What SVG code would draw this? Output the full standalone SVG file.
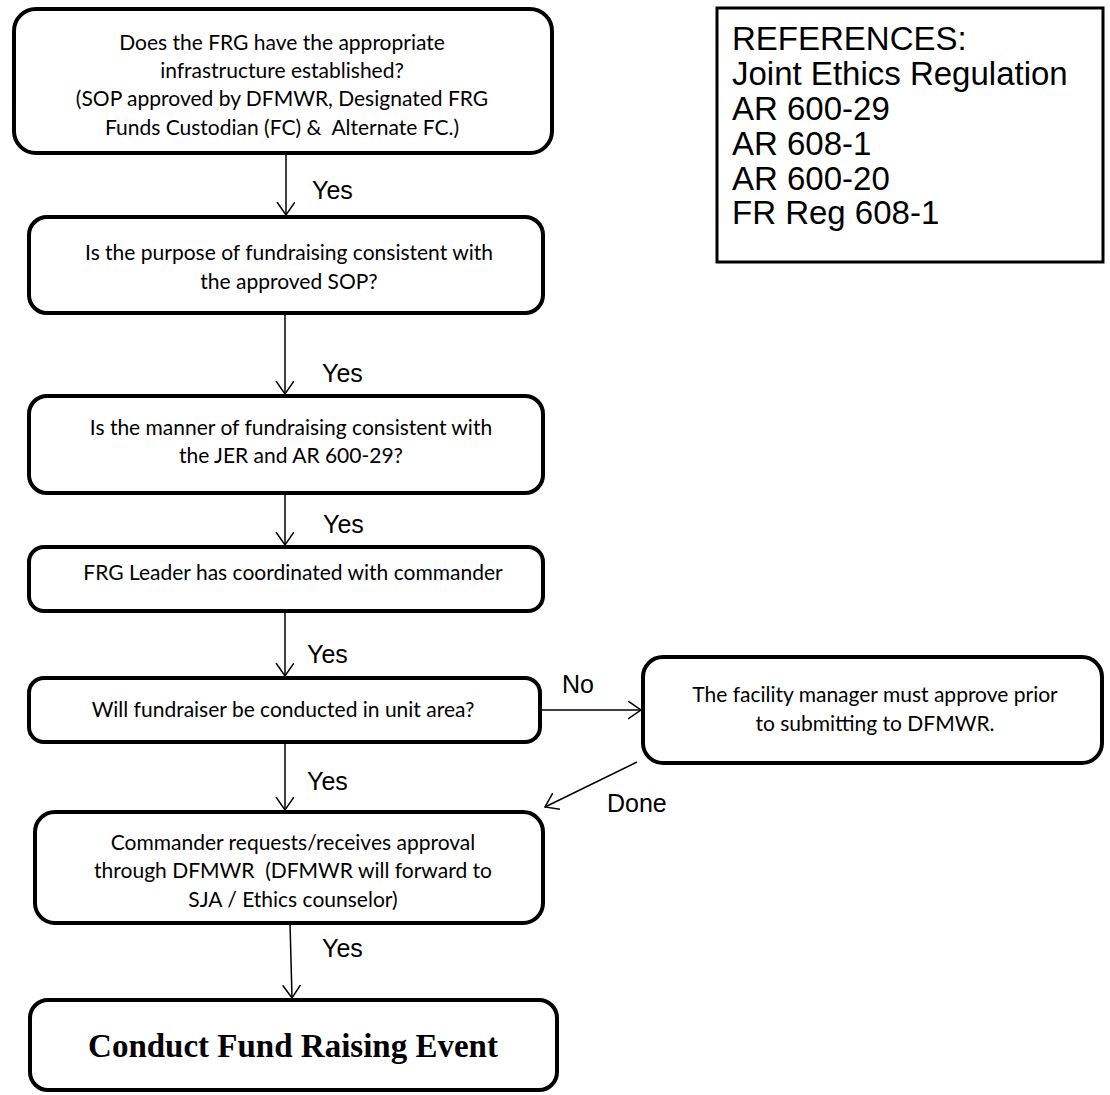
<svg xmlns="http://www.w3.org/2000/svg" width="1110" height="1095" viewBox="0 0 1110 1095">
  <style>
    .box { fill: #fff; stroke: #000; stroke-width: 4; }
    .ref { fill: #fff; stroke: #000; stroke-width: 3; }
    .t { font-family: Lato, "Open Sans", sans-serif; font-size: 21px; fill: #000; text-anchor: middle; }
    .lbl { font-family: "Liberation Sans", Arial, sans-serif; font-size: 25px; fill: #000; }
    .refs { font-family: "Liberation Sans", Arial, sans-serif; font-size: 33px; fill: #000; }
    .big { font-family: "Liberation Serif", "Times New Roman", serif; font-size: 33px; font-weight: bold; fill: #000; text-anchor: middle; }
    .edge { stroke: #000; stroke-width: 1.5; fill: none; marker-end: url(#open); }
  </style>
  <defs>
    <!-- open V arrowhead shared by all connectors -->
    <marker id="open" markerUnits="userSpaceOnUse" markerWidth="22" markerHeight="22" refX="13" refY="9" orient="auto">
      <path d="M0,0 L13,9 L0,18" fill="none" stroke="#000" stroke-width="1.5"/>
    </marker>
  </defs>
  <rect width="1110" height="1095" fill="#fff"/>

  <g id="connectors">
    <line class="edge" x1="286" y1="153" x2="286" y2="215"/>
    <line class="edge" x1="285" y1="313" x2="285" y2="394"/>
    <line class="edge" x1="285" y1="493" x2="285" y2="545"/>
    <line class="edge" x1="285" y1="611" x2="285" y2="676"/>
    <line class="edge" x1="540" y1="710" x2="641" y2="710"/>
    <line class="edge" x1="637" y1="762" x2="545" y2="807"/>
    <line class="edge" x1="285" y1="742" x2="285" y2="810"/>
    <line class="edge" x1="290" y1="923" x2="292" y2="998"/>
    <text class="lbl" x="312" y="199">Yes</text>
    <text class="lbl" x="322" y="382">Yes</text>
    <text class="lbl" x="323" y="533">Yes</text>
    <text class="lbl" x="307" y="663">Yes</text>
    <text class="lbl" x="562" y="693">No</text>
    <text class="lbl" x="307" y="790">Yes</text>
    <text class="lbl" x="607" y="812">Done</text>
    <text class="lbl" x="322" y="957">Yes</text>
  </g>

  <g id="infrastructure">
    <rect class="box" x="14" y="9" width="538" height="144" rx="22"/>
    <text class="t" x="282" y="50">Does the FRG have the appropriate</text>
    <text class="t" x="282" y="78">infrastructure established?</text>
    <text class="t" x="282" y="106">(SOP approved by DFMWR, Designated FRG</text>
    <text class="t" x="282" y="135">Funds Custodian (FC) &amp;&#160; Alternate FC.)</text>
  </g>

  <g id="purpose">
    <rect class="box" x="29" y="217" width="514" height="96" rx="18"/>
    <text class="t" x="289" y="260">Is the purpose of fundraising consistent with</text>
    <text class="t" x="289" y="289">the approved SOP?</text>
  </g>

  <g id="manner">
    <rect class="box" x="29" y="396" width="514" height="97" rx="18"/>
    <text class="t" x="291" y="435">Is the manner of fundraising consistent with</text>
    <text class="t" x="291" y="463">the JER and AR 600-29?</text>
  </g>

  <g id="coordinated">
    <rect class="box" x="29" y="547" width="514" height="64" rx="15"/>
    <text class="t" x="293" y="580">FRG Leader has coordinated with commander</text>
  </g>

  <g id="unit-area">
    <rect class="box" x="29" y="678" width="511" height="64" rx="15"/>
    <text class="t" x="283" y="717">Will fundraiser be conducted in unit area?</text>
  </g>

  <g id="facility-manager">
    <rect class="box" x="643" y="657" width="459" height="106" rx="20"/>
    <text class="t" x="875" y="702">The facility manager must approve prior</text>
    <text class="t" x="875" y="731">to submitting to DFMWR.</text>
  </g>

  <g id="commander-approval">
    <rect class="box" x="35" y="812" width="508" height="111" rx="20"/>
    <text class="t" x="293" y="850">Commander requests/receives approval</text>
    <text class="t" x="293" y="878">through DFMWR&#160; (DFMWR will forward to</text>
    <text class="t" x="293" y="907">SJA / Ethics counselor)</text>
  </g>

  <g id="conduct-event">
    <rect class="box" x="30" y="1000" width="527" height="90" rx="18"/>
    <text class="big" x="293" y="1057">Conduct Fund Raising Event</text>
  </g>

  <g id="references">
    <rect class="ref" x="717" y="8" width="386" height="254"/>
    <text class="refs" x="732" y="50">REFERENCES:</text>
    <text class="refs" x="732" y="85">Joint Ethics Regulation</text>
    <text class="refs" x="732" y="120">AR 600-29</text>
    <text class="refs" x="732" y="155">AR 608-1</text>
    <text class="refs" x="732" y="190">AR 600-20</text>
    <text class="refs" x="732" y="224">FR Reg 608-1</text>
  </g>
</svg>
